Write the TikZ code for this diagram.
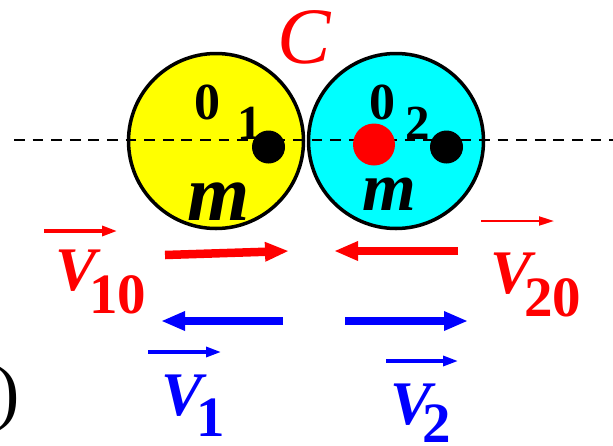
\documentclass[tikz,border=0pt]{standalone}
\usepackage{fontspec}
\setmainfont{Liberation Serif}
\usetikzlibrary{arrows.meta}
\definecolor{ballyellow}{RGB}{255,255,0}
\definecolor{ballcyan}{RGB}{0,255,255}
\definecolor{vred}{RGB}{255,0,0}
\definecolor{vblue}{RGB}{0,0,255}
\begin{document}
\begin{tikzpicture}[x=1pt,y=-1pt,
  ball/.style={circle,draw=black,line width=3.5pt,minimum size=175pt,inner sep=0pt},
  dot/.style={circle,inner sep=0pt,minimum size=#1},
  axis/.style={line width=2pt,dash pattern=on 10.7pt off 7.9pt},
  bigarr/.style={line width=8.5pt,-{Triangle[length=24pt,width=18pt]}},
  smallarr/.style={line width=3.2pt,-{Triangle[length=15pt,width=10pt]}},
  thinarr/.style={line width=2pt,-{Triangle[length=15pt,width=9pt]}},
  vlab/.style={inner sep=0pt,font=\fontsize{62}{62}\selectfont\bfseries\itshape},
  sublab/.style={inner sep=0pt,font=\fontsize{57}{57}\selectfont\bfseries},
  olab/.style={inner sep=0pt,font=\fontsize{#1}{#1}\selectfont\bfseries},
  mlab/.style={inner sep=0pt,font=\fontsize{#1}{#1}\selectfont\bfseries\itshape},
  clab/.style={inner sep=0pt,font=\fontsize{80}{80}\selectfont\itshape}
]
\useasboundingbox (0,0) rectangle (613,445);
% balls
\node[ball,fill=ballyellow] (b1) at (216,141) {};
\node[ball,fill=ballcyan] (b2) at (396,141) {};
% axis line
\coordinate (axl) at (14,140);
\coordinate (axr) at (613,140);
\draw[axis] (axl) -- (axr);
% centres
\node[dot=33pt,fill=black] (d1) at (268.5,147) {};
\node[dot=33pt,fill=black] (d2) at (446.5,147) {};
\node[dot=42pt,fill=vred] (dc) at (374,144.5) {};
% labels in balls
\node[olab=52] (o1) at (207.5,102.5) {0};
\node[olab=49] (o1s) at (249.5,123.5) {1};
\node[olab=52] (o2) at (382,102.5) {0};
\node[olab=49] (o2s) at (417.5,123.5) {2};
\node[mlab=80] (m1) at (219,202) {m};
\node[mlab=69] (m2) at (389,194) {m};
\node[clab,vred] (c) at (304,37) {C};
% incoming velocities (red)
\coordinate (r1s) at (165,255);
\coordinate (r1e) at (289,251);
\coordinate (r2s) at (458,251);
\coordinate (r2e) at (334,251);
\draw[bigarr,vred] (r1s) -- (r1e);
\draw[bigarr,vred] (r2s) -- (r2e);
% outgoing velocities (blue)
\coordinate (u1s) at (283,321);
\coordinate (u1e) at (161,321);
\coordinate (u2s) at (345,321);
\coordinate (u2e) at (468,321);
\draw[bigarr,vblue] (u1s) -- (u1e);
\draw[bigarr,vblue] (u2s) -- (u2e);
% vector labels
\coordinate (a10s) at (44,231);  \coordinate (a10e) at (117,231);
\coordinate (a20s) at (481,221); \coordinate (a20e) at (554,221);
\coordinate (a1s) at (148,352);  \coordinate (a1e) at (221,352);
\coordinate (a2s) at (386,361);  \coordinate (a2e) at (458,361);
\draw[smallarr,vred] (a10s) -- (a10e);
\draw[thinarr,vred] (a20s) -- (a20e);
\draw[smallarr,vblue] (a1s) -- (a1e);
\draw[smallarr,vblue] (a2s) -- (a2e);
\node[vlab,vred] (v10) at (76,271) {V};
\node[sublab,vred] (v10s) at (117.5,295) {10};
\node[vlab,vred] (v20) at (511,274) {V};
\node[sublab,vred] (v20s) at (552.5,297.5) {20};
\node[vlab,vblue] (v1) at (182,395.5) {V};
\node[sublab,vblue] (v1s) at (210.5,417.5) {1};
\node[vlab,vblue] (v2) at (411,405) {V};
\node[sublab,vblue] (v2s) at (436.5,424) {2};
% partial parenthesis at left edge
\node[inner sep=0pt,font=\fontsize{73}{73}\selectfont] (par) at (8,399) {)};
\end{tikzpicture}
\end{document}
